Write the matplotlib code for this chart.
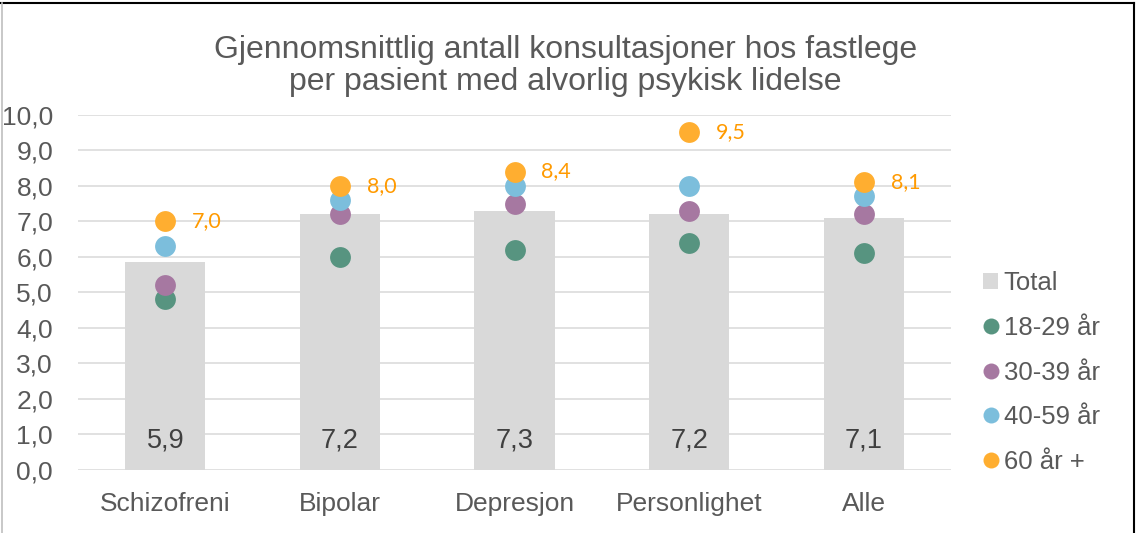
import matplotlib
matplotlib.use("Agg")
import matplotlib.pyplot as plt
from matplotlib.lines import Line2D
from matplotlib.patches import Patch
import numpy as np

plt.rcParams['font.family'] = ['Liberation Sans', 'DejaVu Sans']

categories = ["Schizofreni", "Bipolar", "Depresjon", "Personlighet", "Alle"]
total = [5.86, 7.2, 7.3, 7.2, 7.1]
age_18_29 = [4.8, 6.0, 6.2, 6.4, 6.1]
age_30_39 = [5.2, 7.2, 7.5, 7.3, 7.2]
age_40_59 = [6.3, 7.6, 8.0, 8.0, 7.7]
age_60p = [7.0, 8.0, 8.4, 9.5, 8.1]

series_names = ["18-29 år", "30-39 år", "40-59 år", "60 år +"]
series_vals = [age_18_29, age_30_39, age_40_59, age_60p]
series_cols = ["#579480", "#A678A1", "#7CBEDC", "#FFAE30"]
bar_col = "#D9D9D9"
txt_col = "#595959"

W, H = 1141, 533
fig = plt.figure(figsize=(W / 100, H / 100), dpi=100)
ax = fig.add_axes([78 / W, 1 - 470 / H, (951 - 78) / W, (470 - 114.7) / H])

x = np.arange(len(categories))
ax.bar(x, total, width=0.46, color=bar_col, zorder=2)
for vals, col in zip(series_vals, series_cols):
    ax.scatter(x, vals, s=225, color=col, zorder=3, linewidths=0)

for xi, v in zip(x, total):
    ax.annotate(f"{v:.1f}".replace('.', ','), (xi, 0), xytext=(0, 21),
                textcoords='offset points', ha='center', va='center',
                fontsize=19.5, color="#404040", zorder=4)
for xi, v in zip(x, age_60p):
    ax.annotate(f"{v:.1f}".replace('.', ','), (xi, v), xytext=(30, 0),
                textcoords='offset points', ha='center', va='center',
                fontsize=15.5, color="#FF9A00", family=['Lato', 'DejaVu Sans'], zorder=4)

ax.set_xlim(-0.5, len(categories) - 0.5)
ax.set_ylim(0, 10)
yt = np.arange(0, 11, 1.0)
ax.set_yticks(yt)
ax.set_yticklabels([f"{v:.1f}".replace('.', ',') for v in yt])
ax.set_xticks(x)
ax.set_xticklabels(categories)
ax.tick_params(axis='y', length=0, pad=18, labelsize=19, labelcolor=txt_col)
ax.tick_params(axis='x', length=0, pad=15.5, labelsize=19, labelcolor=txt_col)
ax.grid(axis='y', color=bar_col, linewidth=1.1, zorder=0)
ax.set_axisbelow(True)
for s in ax.spines.values():
    s.set_visible(False)

fig.text(565.5 / W, 1 - 66 / H,
         "Gjennomsnittlig antall konsultasjoner hos fastlege\nper pasient med alvorlig psykisk lidelse",
         ha='center', va='center', multialignment='center', fontsize=23,
         color=txt_col, linespacing=1.1)

handles = [Patch(facecolor=bar_col, edgecolor='none')]
for col in series_cols:
    handles.append(Line2D([], [], marker='o', linestyle='none', markersize=11.5,
                          markerfacecolor=col, markeredgewidth=0))
leg = fig.legend(handles, ["Total"] + series_names, loc='center left',
                 bbox_to_anchor=(983 / W, 1 - 372.5 / H), frameon=False,
                 fontsize=18.5, handlelength=0.6, handleheight=0.6,
                 handletextpad=0.2, labelspacing=0.8, borderpad=0, borderaxespad=0)
for t in leg.get_texts():
    t.set_color(txt_col)

# chart border
fig.add_artist(Line2D([0, 1133.5 / W], [1 - 2.5 / H, 1 - 2.5 / H], transform=fig.transFigure,
                      color='black', linewidth=1.5))
fig.add_artist(Line2D([1133.5 / W, 1133.5 / W], [0, 1 - 2.5 / H], transform=fig.transFigure,
                      color='black', linewidth=1.5))
fig.add_artist(Line2D([1.5 / W, 1.5 / W], [0, 1 - 2.5 / H], transform=fig.transFigure,
                      color='#BFBFBF', linewidth=1.2))

fig.savefig("out.png", dpi=100)
